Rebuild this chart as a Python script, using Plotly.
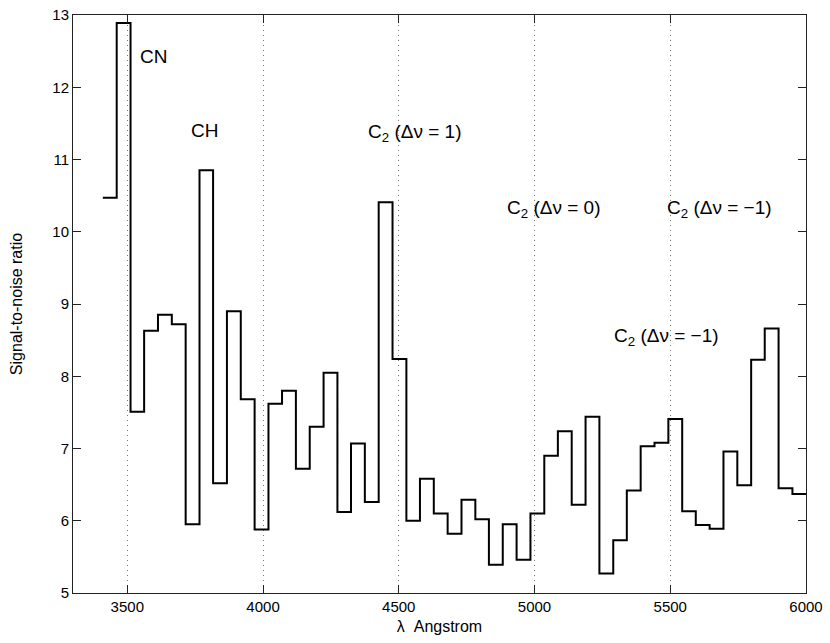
import plotly.graph_objects as go

# Bin left edges (Angstrom) and final right edge
wavelength_edges = [3410, 3461, 3512, 3562, 3613, 3664, 3715, 3766, 3816, 3867,
                    3918, 3969, 4020, 4070, 4121, 4172, 4223, 4274, 4324, 4375,
                    4426, 4477, 4528, 4578, 4629, 4680, 4731, 4782, 4832, 4883,
                    4934, 4985, 5036, 5086, 5137, 5188, 5239, 5290, 5340, 5391,
                    5442, 5493, 5544, 5594, 5645, 5696, 5747, 5798, 5848, 5899,
                    5950, 6001]
snr = [10.47, 12.89, 7.51, 8.63, 8.85, 8.72, 5.95, 10.85, 6.52, 8.90,
       7.68, 5.88, 7.62, 7.80, 6.72, 7.30, 8.05, 6.12, 7.07, 6.26,
       10.41, 8.24, 6.00, 6.58, 6.10, 5.82, 6.29, 6.02, 5.39, 5.95,
       5.46, 6.10, 6.90, 7.24, 6.22, 7.44, 5.27, 5.73, 6.42, 7.03,
       7.08, 7.41, 6.13, 5.94, 5.89, 6.96, 6.49, 8.23, 8.66, 6.45,
       6.37]

x_ticks = [3500, 4000, 4500, 5000, 5500, 6000]
y_ticks = [5, 6, 7, 8, 9, 10, 11, 12, 13]

labels = [
    ("CN", 3539, 12.42),
    ("CH", 3729, 11.40),
    ("C<sub>2</sub> (\u0394\u03bd = 1)", 4381, 11.36),
    ("C<sub>2</sub> (\u0394\u03bd = 0)", 4893, 10.32),
    ("C<sub>2</sub> (\u0394\u03bd = \u22121)", 5479, 10.32),
    ("C<sub>2</sub> (\u0394\u03bd = \u22121)", 5286, 8.54),
]

font_family = "Liberation Sans, Arial, Helvetica, sans-serif"

fig = go.Figure()
fig.add_trace(go.Scatter(
    x=wavelength_edges,
    y=snr + [snr[-1]],
    mode="lines",
    line=dict(color="black", width=2, shape="hv"),
    showlegend=False,
    hoverinfo="skip",
))

for text, xv, yv in labels:
    fig.add_annotation(x=xv, y=yv, text=text, showarrow=False,
                       xanchor="left", yanchor="middle",
                       font=dict(family=font_family, size=19, color="black"))

axis_common = dict(
    showline=True, linecolor="#222", linewidth=1, mirror="ticks",
    ticks="inside", ticklen=8, tickcolor="#222", tickwidth=1,
    zeroline=False, automargin=False, ticklabeloverflow="allow",
    tickfont=dict(family=font_family, size=15, color="black"),
)

fig.update_xaxes(range=[3300, 6000], tickvals=x_ticks,
                 showgrid=True, gridcolor="#777", griddash="1px,4px", gridwidth=1,
                 title=dict(text="\u03bb  Angstrom", standoff=6,
                            font=dict(family=font_family, size=16, color="black")),
                 **axis_common)
fig.update_yaxes(range=[5, 13], tickvals=y_ticks, showgrid=False,
                 title=dict(text="Signal-to-noise ratio", standoff=25,
                            font=dict(family=font_family, size=16, color="black")),
                 **axis_common)

fig.update_layout(
    width=830, height=643,
    margin=dict(l=73, r=24, t=15, b=50),
    plot_bgcolor="white", paper_bgcolor="white",
    font=dict(family=font_family, color="black"),
)

fig.write_html("out.html",
               config={"displayModeBar": False, "staticPlot": True},
               post_script="document.body.style.margin='0';document.body.style.overflow='hidden';")
